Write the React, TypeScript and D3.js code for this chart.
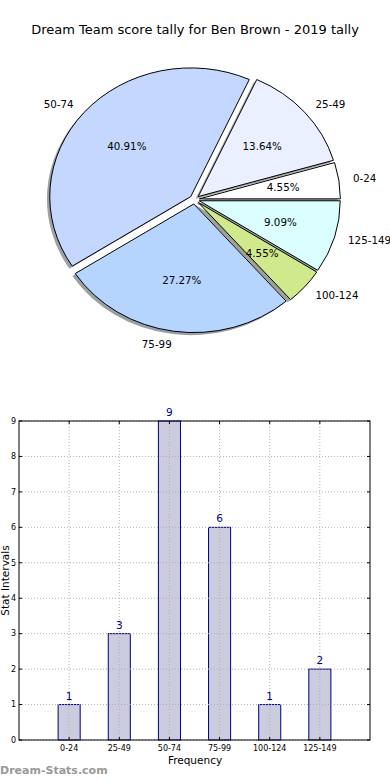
import React from "react";
import * as d3 from "d3";

const categories = ["0-24", "25-49", "50-74", "75-99", "100-124", "125-149"];
const counts = [1, 3, 9, 6, 1, 2];
const pieColors = ["#ffffff", "#eaf0ff", "#c4d8ff", "#b5d5ff", "#d0e98c", "#dbffff"];
const yTicks = [0, 1, 2, 3, 4, 5, 6, 7, 8, 9];
const title = "Dream Team score tally for Ben Brown - 2019 tally";

const FONT = "'DejaVu Sans', sans-serif";

function darkShadow(c: string) {
  const col = d3.rgb(c);
  return d3.rgb(col.r * 0.3, col.g * 0.3, col.b * 0.3).toString();
}

export default function App() {
  const W = 390, H = 780;
  // pie geometry (elliptical)
  const cx = 194.5, cy = 199.5, rx = 141, ry = 128.6;
  const explode = 0.035;
  const total = d3.sum(counts);
  const arcGen = d3.arc<any>();
  let acc = 0;
  const slices = counts.map((v, i) => {
    const t1 = (acc / total) * 2 * Math.PI;
    acc += v;
    const t2 = (acc / total) * 2 * Math.PI;
    const mid = (t1 + t2) / 2;
    const path = arcGen({ innerRadius: 0, outerRadius: 1, startAngle: Math.PI / 2 - t2, endAngle: Math.PI / 2 - t1 }) as string;
    const ox = cx + explode * rx * Math.cos(mid);
    const oy = cy - explode * ry * Math.sin(mid);
    return { i, v, path, mid, ox, oy, pct: (v / total) * 100 };
  });

  // bar chart
  const x = d3.scaleLinear().domain([-1, 6]).range([19, 370]);
  const y = d3.scaleLinear().domain([0, 9]).range([740, 421]);
  const bw = x(0.44) - x(0);

  return (
    <svg width={W} height={H} style={{ position: "absolute", left: 0, top: 0 }} fontFamily={FONT}>
      <rect width={W} height={H} fill="#fff" />
      <text x={195} y={34} textAnchor="middle" fontSize={13} fill="#000">{title}</text>
      {/* shadows */}
      {slices.map((s) => (
        <g key={"sh" + s.i} transform={`translate(${s.ox - 0.02 * rx},${s.oy + 0.02 * ry}) scale(${rx},${ry})`}>
          <path d={s.path} fill={darkShadow(pieColors[s.i])} fillOpacity={0.5} stroke="none" />
        </g>
      ))}
      {slices.map((s) => (
        <g key={"w" + s.i} transform={`translate(${s.ox},${s.oy}) scale(${rx},${ry})`}>
          <path d={s.path} fill={pieColors[s.i]} stroke="#000" strokeWidth={1} vectorEffect="non-scaling-stroke" />
        </g>
      ))}
      {slices.map((s) => {
        const lx = s.ox + 1.1 * rx * Math.cos(s.mid);
        const ly = s.oy - 1.1 * ry * Math.sin(s.mid);
        const px = s.ox + 0.6 * rx * Math.cos(s.mid);
        const py = s.oy - 0.6 * ry * Math.sin(s.mid);
        return (
          <g key={"l" + s.i} fontSize={10.3} fill="#000">
            <text x={lx} y={ly} dy="0.35em" textAnchor={Math.cos(s.mid) > 0 ? "start" : "end"}>{categories[s.i]}</text>
            <text x={px} y={py} dy="0.35em" textAnchor="middle">{s.pct.toFixed(2) + "%"}</text>
          </g>
        );
      })}

      {/* bar chart */}
      {counts.map((v, i) => (
        <rect key={"b" + i} x={x(i) - bw / 2} y={y(v)} width={bw} height={y(0) - y(v)} fill="#ccccdf" stroke="#000080" strokeWidth={1} />
      ))}
      {/* grid */}
      {yTicks.map((t) => (
        <line key={"gy" + t} x1={x(-1)} x2={x(6)} y1={y(t)} y2={y(t)} stroke="#b0b0b0" strokeWidth={1} strokeDasharray="1,2" />
      ))}
      {categories.map((c, i) => (
        <line key={"gx" + i} x1={x(i)} x2={x(i)} y1={y(0)} y2={y(9)} stroke="#b0b0b0" strokeWidth={1} strokeDasharray="1,2" />
      ))}
      {/* ticks */}
      {yTicks.map((t) => (
        <g key={"ty" + t}>
          <line x1={x(-1)} x2={x(-1) + 3} y1={y(t)} y2={y(t)} stroke="#000" />
          <line x1={x(6) - 3} x2={x(6)} y1={y(t)} y2={y(t)} stroke="#000" />
          <text x={x(-1) - 3} y={y(t)} dy="0.35em" textAnchor="end" fontSize={8} fill="#000">{t}</text>
        </g>
      ))}
      {categories.map((c, i) => (
        <g key={"tx" + i}>
          <line x1={x(i)} x2={x(i)} y1={y(0)} y2={y(0) - 3} stroke="#000" />
          <line x1={x(i)} x2={x(i)} y1={y(9)} y2={y(9) + 3} stroke="#000" />
          <text x={x(i)} y={y(0) + 11} textAnchor="middle" fontSize={8} fill="#000">{c}</text>
        </g>
      ))}
      <rect x={x(-1)} y={y(9)} width={x(6) - x(-1)} height={y(0) - y(9)} fill="none" stroke="#000" strokeWidth={1} />
      {counts.map((v, i) => (
        <text key={"v" + i} x={x(i)} y={y(v) - 5} textAnchor="middle" fontSize={10.5} fill="#00008b">{v}</text>
      ))}
      <text x={195} y={764} textAnchor="middle" fontSize={10.5} fill="#000">Frequency</text>
      <text transform={`translate(8.5,${(y(0) + y(9)) / 2}) rotate(-90)`} textAnchor="middle" fontSize={10.5} fill="#000">Stat Intervals</text>
      <text x={0} y={774} fontSize={11} fontWeight="bold" fill="#999">Dream-Stats.com</text>
    </svg>
  );
}
